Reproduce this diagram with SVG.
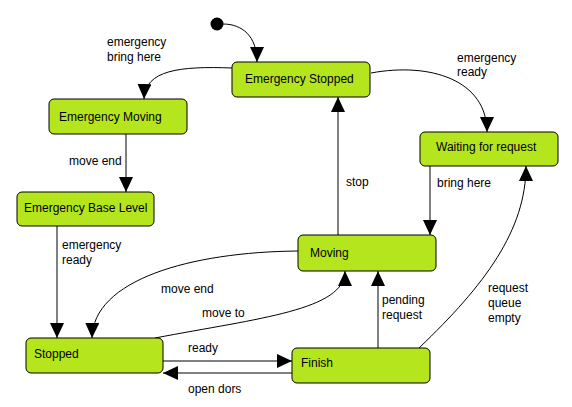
<svg xmlns="http://www.w3.org/2000/svg" width="572" height="407" viewBox="0 0 572 407">
<style>
.n{fill:#b5e61d;stroke:#000;stroke-width:1}
.e{fill:none;stroke:#000;stroke-width:1;marker-end:url(#a)}
text{font-family:"Liberation Sans",Arial,sans-serif;font-size:12px;fill:#000}
</style>
<defs>
<marker id="a" markerWidth="16" markerHeight="14" refX="15" refY="7" orient="auto" markerUnits="userSpaceOnUse" viewBox="0 0 16 14"><path d="M0,0 L15,7 L0,14 z" fill="#000"/></marker>
</defs>
<rect width="572" height="407" fill="#fff"/>
<g id="connectors">
<path class="e" d="M223,24 C242,24 257,36 257,62"/>
<path class="e" d="M232,68 C180,66 145,70 144,99"/>
<path class="e" d="M126,134 L126,192"/>
<path class="e" d="M57,226 L57,338"/>
<path class="e" d="M298,251 C190,252 93,280 92,338"/>
<path class="e" d="M155,338 C260,318 345,310 345,271"/>
<path class="e" d="M163,361 L292,361"/>
<path class="e" d="M292,373 L163,373"/>
<path class="e" d="M378,348 L378,271"/>
<path class="e" d="M419,348 C485,285 526,230 526,166"/>
<path class="e" d="M338,235 L338,97"/>
<path class="e" d="M371,73 C430,62 487,80 487,132"/>
<path class="e" d="M430,166 L430,235"/>
<text x="107" y="46">emergency</text>
<text x="107" y="61">bring here</text>
<text x="69" y="165">move end</text>
<text x="62" y="249">emergency</text>
<text x="62" y="264">ready</text>
<text x="161" y="293">move end</text>
<text x="202" y="317">move to</text>
<text x="188" y="352">ready</text>
<text x="188" y="393">open dors</text>
<text x="457" y="62">emergency</text>
<text x="457" y="76">ready</text>
<text x="346" y="186">stop</text>
<text x="437" y="187">bring here</text>
<text x="382" y="304">pending</text>
<text x="382" y="319">request</text>
<text x="488" y="292">request</text>
<text x="488" y="307">queue</text>
<text x="488" y="322">empty</text>
</g>
<g id="initial"><circle cx="217" cy="24" r="6.5" fill="#000"/></g>
<g id="emergency-stopped"><rect class="n" x="232" y="62" width="138" height="35" rx="5"/><text x="245" y="83">Emergency Stopped</text></g>
<g id="emergency-moving"><rect class="n" x="49" y="99" width="138" height="35" rx="5"/><text x="59" y="121">Emergency Moving</text></g>
<g id="emergency-base-level"><rect class="n" x="17" y="192" width="137" height="34" rx="5"/><text x="24" y="212">Emergency Base Level</text></g>
<g id="waiting"><rect class="n" x="420" y="132" width="138" height="34" rx="5"/><text x="436" y="151">Waiting for request</text></g>
<g id="moving"><rect class="n" x="298" y="235" width="138" height="36" rx="5"/><text x="310" y="257">Moving</text></g>
<g id="stopped"><rect class="n" x="26" y="338" width="137" height="35" rx="5"/><text x="34" y="358">Stopped</text></g>
<g id="finish"><rect class="n" x="292" y="348" width="138" height="35" rx="5"/><text x="301" y="367">Finish</text></g>
</svg>
